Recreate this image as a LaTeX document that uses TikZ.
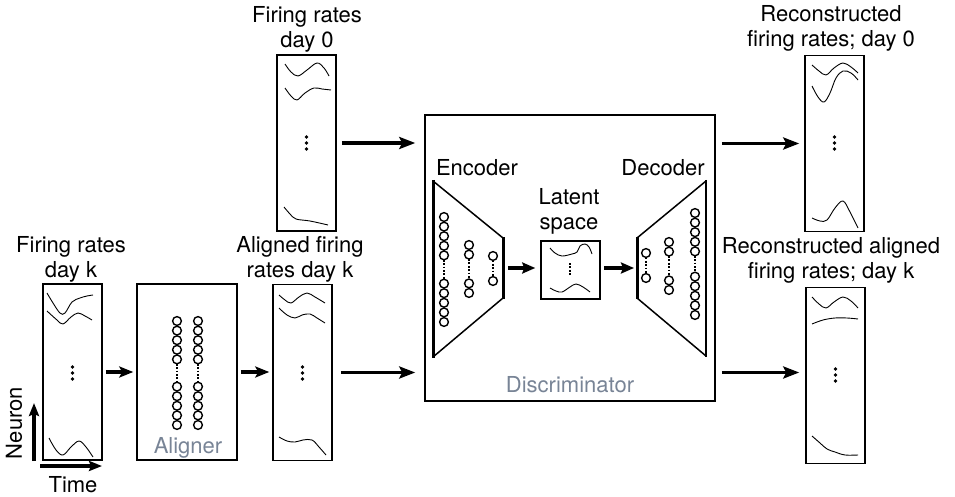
\documentclass[tikz,border=0pt]{standalone}
\usepackage{fontspec}
\setmainfont{TeX Gyre Heros}
\usetikzlibrary{arrows.meta}
\definecolor{lblgray}{RGB}{120,132,150}
\newcommand\ncol[4]{%
  \foreach \k in {1,...,#4}{%
    \draw[neuron] ({#1},{#2+(\k-1)*9.6}) circle (4.4pt);
    \draw[neuron] ({#1},{#3-(\k-1)*9.6}) circle (4.4pt);
  }
  \draw[ndots] ({#1},{#2+(#4-1)*9.6+4.4}) -- ({#1},{#3-(#4-1)*9.6-4.4});
}
\newcommand\threedots[2]{%
  \fill (#1,{#2-6}) circle (1.8pt) (#1,#2) circle (1.8pt) (#1,{#2+6}) circle (1.8pt);
}
\begin{document}
\begin{tikzpicture}[x=1pt,y=-1pt,
  panel/.style={draw, line width=1.5pt, inner sep=0pt, minimum width=59pt, minimum height=176pt},
  wave/.style={line width=0.9pt},
  neuron/.style={line width=1.4pt},
  ndots/.style={line width=2.2pt, dash pattern=on 1.8pt off 1.6pt},
  bigarrow/.style={line width=3.8pt, -{Stealth[length=16pt,width=12pt,inset=3pt]}},
  axarrow/.style={line width=3.2pt, -{Stealth[length=13pt,width=10pt,inset=2pt]}},
  lbl/.style={font=\fontsize{22}{25.5}\selectfont, align=center, inner sep=0pt},
  glbl/.style={lbl, text=lblgray}]
\useasboundingbox (0,0) rectangle (955,497);

% panels
\node[panel] (dk) at (72.5,372) {};
\node[panel, minimum width=100pt] (aligner) at (187,372) {};
\node[panel] (ald) at (302.5,372.5) {};
\node[panel] (d0) at (306.5,143) {};
\node[draw, line width=1.5pt, inner sep=0pt, minimum width=290pt, minimum height=286pt] (disc) at (570,258) {};
\node[panel] (r0) at (834.5,143.5) {};
\node[panel] (rk) at (835.5,375.5) {};
\node[draw, line width=1.5pt, inner sep=0pt, minimum width=59pt, minimum height=58pt] (lat) at (570.5,270) {};

% labels
\node[lbl, anchor=north] (tk) at (71,236) {Firing rates\\day k};
\node[lbl, anchor=north] (t0) at (307,6) {Firing rates\\day 0};
\node[lbl, anchor=north] (ta) at (300,236) {Aligned firing\\rates day k};
\node[lbl, anchor=north] (tr0) at (831,5) {Reconstructed\\firing rates; day 0};
\node[lbl, anchor=north] (trk) at (831,237) {Reconstructed aligned\\firing rates; day k};
\node[lbl, anchor=north] (tenc) at (477,159) {Encoder};
\node[lbl, anchor=north] (tdec) at (663,159) {Decoder};
\node[lbl, anchor=north] (tlat) at (569,188) {Latent\\space};
\node[glbl] (talg) at (188,448) {Aligner};
\node[glbl] (tdisc) at (570,385) {Discriminator};
\node[lbl, rotate=90] (tneu) at (14,423) {Neuron};
\node[lbl] (ttime) at (73,485) {Time};

% axes arrows
\coordinate (nb) at (34,461);
\coordinate (nt) at (34,403);
\coordinate (tl) at (40,466);
\coordinate (tr) at (102,466);
\draw[axarrow] (nb) -- (nt);
\draw[axarrow] (tl) -- (tr);

% connectors
\draw[bigarrow, line width=3.2pt, -{Stealth[length=14pt,width=11pt,inset=3pt]}, shorten <=3pt, shorten >=3pt] (dk.east) -- (aligner.west);
\draw[bigarrow, line width=3.2pt, -{Stealth[length=14pt,width=11pt,inset=3pt]}, shorten <=3pt, shorten >=3pt] (aligner.east) -- (ald.west |- aligner.east);
\draw[bigarrow, shorten <=5pt, shorten >=9pt] (d0.east) -- (d0.east -| disc.west);
\draw[bigarrow, shorten <=8pt, shorten >=9pt] (ald.east) -- (ald.east -| disc.west);
\draw[bigarrow, shorten <=6pt, shorten >=5pt] (disc.east |- r0.west) -- (r0.west);
\draw[bigarrow, shorten <=6pt, shorten >=6pt] (disc.east |- ald.east) -- (rk.west |- ald.east);

% encoder / decoder
\draw[line width=1.5pt] (433,181) -- (503,238) (503,298) -- (433,357);
\draw[line width=3pt] (433,180) -- (433,358) (503,237) -- (503,299);
\draw[line width=1.5pt] (706,181) -- (637,238) (637,298) -- (706,356);
\draw[line width=3pt] (637,237) -- (637,299);
\draw[line width=1.6pt] (706,180) -- (706,357);
\coordinate (encR) at (503,268);
\coordinate (decL) at (637,268);
\draw[bigarrow, line width=3.4pt, -{Stealth[length=13pt,width=11pt,inset=2pt]}, shorten <=5pt, shorten >=5pt] (encR) -- (lat.west |- encR);
\draw[bigarrow, line width=3.4pt, -{Stealth[length=13pt,width=11pt,inset=2pt]}, shorten <=3pt, shorten >=3pt] (lat.east |- decL) -- (decL);

% neurons
\ncol{444}{217}{322}{5}
\ncol{469}{245}{293}{2}
\ncol{493}{256}{281}{1}
\ncol{646}{253}{278}{1}
\ncol{669}{242}{290}{2}
\ncol{695}{213}{315}{5}
\ncol{177}{321}{425}{5}
\ncol{198}{321}{425}{5}

% waveforms
\draw[wave] plot[smooth, tension=0.6] coordinates {(47,293) (53,303) (60,313) (65,313) (72,302) (80,298) (87,296) (93,295)};
\draw[wave] plot[smooth, tension=0.6] coordinates {(47,311) (57,320) (63,324) (71,317) (78,313) (85,316) (92,320)};
\draw[wave] plot[smooth, tension=0.6] coordinates {(49,438) (56,450) (63,455) (71,447) (79,441) (86,447) (93,457)};
\threedots{72.5}{373}

\draw[wave] plot[smooth, tension=0.6] coordinates {(285,64) (291,72) (298,76) (307,70) (317,63) (324,68) (329,76)};
\draw[wave] plot[smooth, tension=0.6] coordinates {(285,88) (291,96) (297,100) (305,93) (314,88) (322,89) (331,90)};
\draw[wave] plot[smooth, tension=0.6] coordinates {(284,207) (290,214) (296,219) (310,221) (328,225)};
\threedots{306.5}{143}

\draw[wave] plot[smooth, tension=0.6] coordinates {(279,295) (285,300) (291,303) (299,297) (307,293) (315,297) (325,303)};
\draw[wave] plot[smooth, tension=0.6] coordinates {(279,308) (287,315) (295,318) (302,315) (310,314) (317,318) (325,323)};
\draw[wave] plot[smooth, tension=0.6] coordinates {(279,437) (287,441) (295,442) (303,440) (312,440) (319,447) (326,455)};
\threedots{302.5}{373}

\draw[wave] plot[smooth, tension=0.6] coordinates {(812,65) (819,71) (826,75) (834,68) (843,63) (851,67) (858,73)};
\draw[wave] plot[smooth, tension=0.6] coordinates {(812,86) (818,97) (824,102) (830,93) (836,78) (843,71) (851,73) (858,80)};
\draw[wave] plot[smooth, tension=0.6] coordinates {(812,218) (820,221) (827,220) (835,208) (843,201) (850,212) (858,228)};
\threedots{834.5}{143}

\draw[wave] plot[smooth, tension=0.6] coordinates {(812,297) (819,304) (826,308) (834,302) (843,297) (851,301) (858,308)};
\draw[wave] plot[smooth, tension=0.6] coordinates {(812,324) (823,320) (835,318) (847,318) (858,319)};
\draw[wave] plot[smooth, tension=0.6] coordinates {(812,436) (820,443) (827,449) (835,452) (845,455) (858,455)};
\threedots{835.5}{375}

\draw[wave] plot[smooth, tension=0.6] coordinates {(550,248) (555,253) (562,256) (572,254) (577,252) (580,246) (585,244) (589,247) (592,254)};
\draw[wave] plot[smooth, tension=0.6] coordinates {(550,288) (556,291) (562,292) (570,287) (576,284) (583,287) (590,292)};
\draw[ndots] (570,263) -- (570,275);
\end{tikzpicture}
\end{document}
